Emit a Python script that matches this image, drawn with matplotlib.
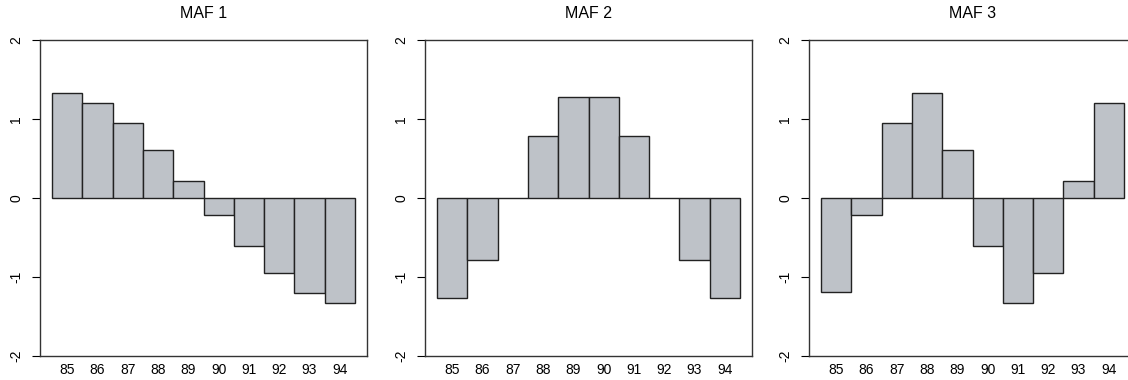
import numpy as np
import matplotlib.pyplot as plt

plt.rcParams['font.family'] = ['Liberation Sans', 'DejaVu Sans']

years = ['85', '86', '87', '88', '89', '90', '91', '92', '93', '94']
titles = ['MAF 1', 'MAF 2', 'MAF 3']
maf1 = [1.33, 1.20, 0.95, 0.61, 0.21, -0.21, -0.61, -0.95, -1.20, -1.33]
maf2 = [-1.27, -0.78, 0.0, 0.79, 1.28, 1.28, 0.79, 0.0, -0.78, -1.27]
maf3 = [-1.19, -0.21, 0.95, 1.33, 0.61, -0.61, -1.33, -0.95, 0.21, 1.20]
yticks = [-2, -1, 0, 1, 2]

fig = plt.figure(figsize=(11.28, 3.8), dpi=100)
lefts = [40, 425, 809]
x = np.arange(len(years))

for left, title, vals in zip(lefts, titles, [maf1, maf2, maf3]):
    ax = fig.add_axes([left / 1128, 24 / 380, 327 / 1128, 316 / 380])
    ax.bar(x, vals, width=1.0, color='#bec2c8', edgecolor='#222222', linewidth=1.0)
    ax.set_xlim(-0.9, 9.9)
    ax.set_ylim(-2, 2)
    ax.set_xticks(x)
    ax.set_xticklabels(years)
    ax.set_yticks(yticks)
    ax.set_yticklabels([str(t) for t in yticks], rotation=90, va='center')
    ax.tick_params(axis='x', length=0, pad=5, labelsize=10)
    ax.tick_params(axis='y', length=6, width=0.8, pad=6, labelsize=10)
    for s in ax.spines.values():
        s.set_linewidth(1.0)
        s.set_color('#333333')
    ax.set_title(title, fontsize=11.5, pad=16)

fig.savefig('out.png', dpi=100)
